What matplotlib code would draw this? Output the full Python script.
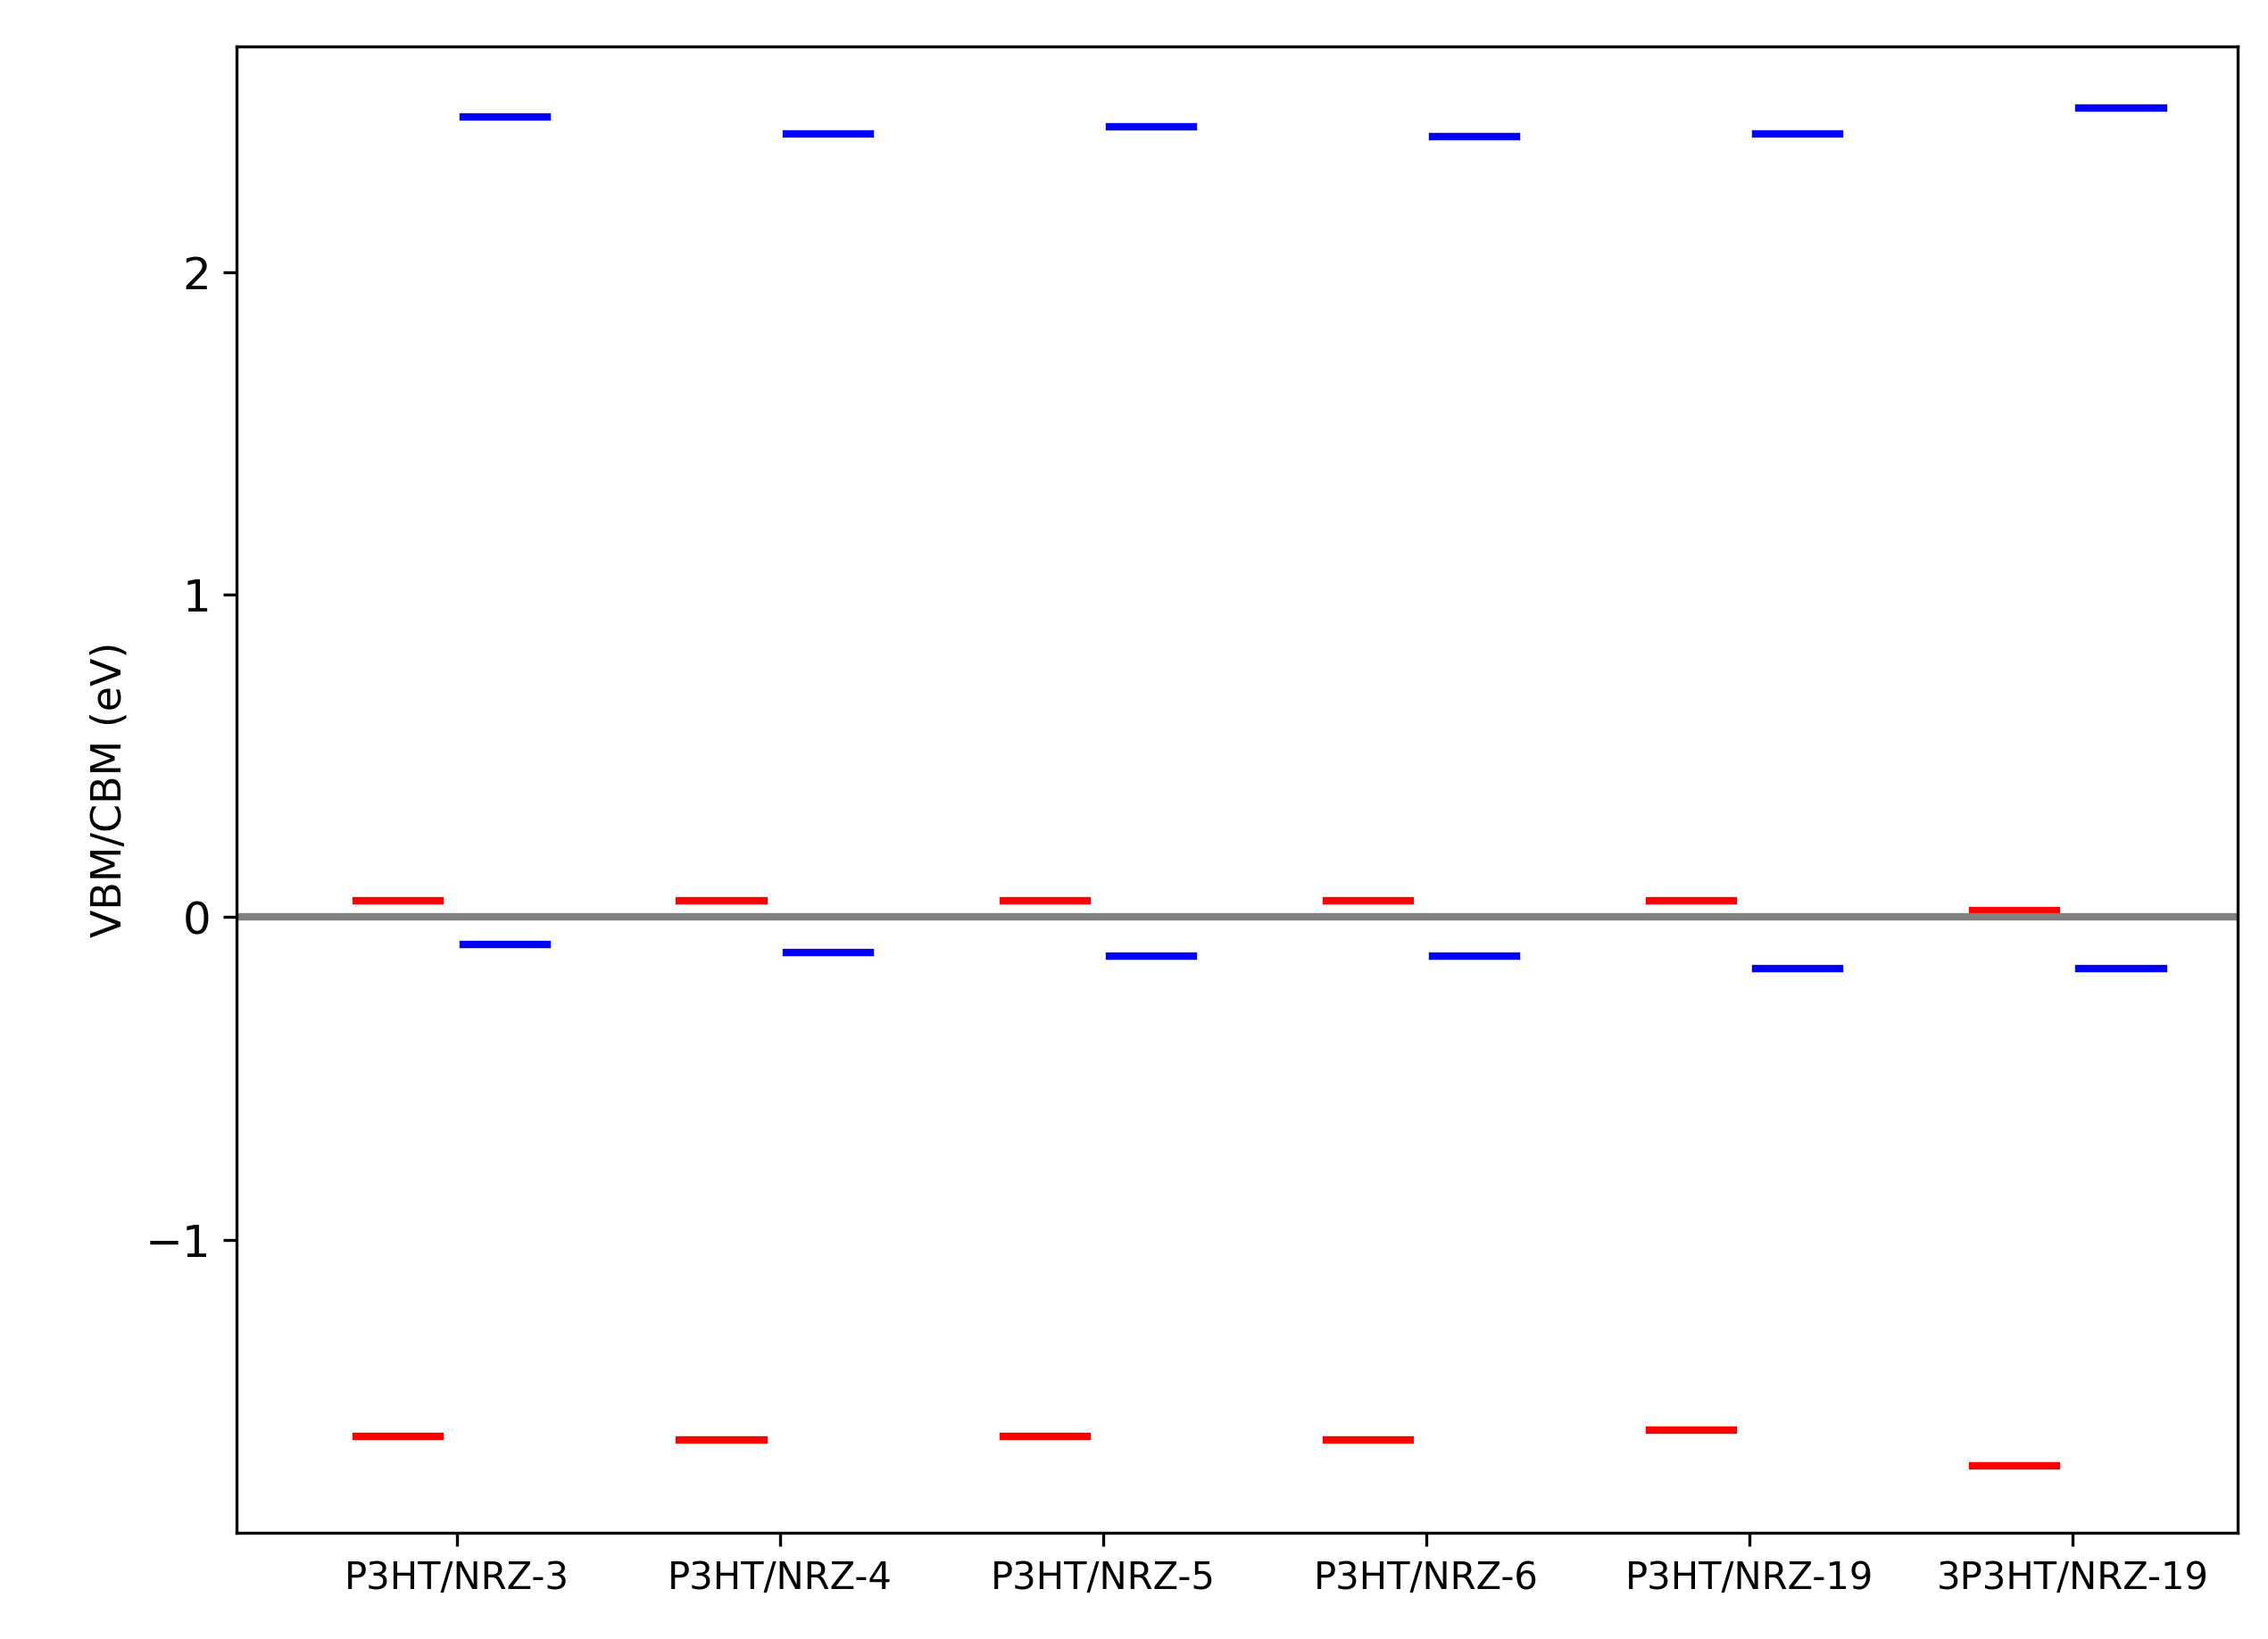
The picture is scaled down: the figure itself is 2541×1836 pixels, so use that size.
import matplotlib
matplotlib.use("Agg")
import matplotlib.pyplot as plt
import numpy as np

labels = ["P3HT/NRZ-3", "P3HT/NRZ-4", "P3HT/NRZ-5", "P3HT/NRZ-6", "P3HT/NRZ-19", "3P3HT/NRZ-19"]
red_vbm = [0.05, 0.05, 0.05, 0.05, 0.05, 0.02]
red_cbm = [-1.61, -1.62, -1.61, -1.62, -1.59, -1.70]
blue_cbm = [2.48, 2.43, 2.45, 2.42, 2.43, 2.51]
blue_vbm = [-0.085, -0.11, -0.12, -0.12, -0.16, -0.16]

fig = plt.figure(figsize=(2541/300, 1836/300), dpi=300)
ax = fig.add_axes([163/1561, 1-1057/1130, (1540-163)/1561, (1057-32)/1130])
x = np.arange(len(labels))
w = 0.13
for i in x:
    for v in (red_vbm[i], red_cbm[i]):
        ax.plot([i-0.18-w, i-0.18+w], [v, v], color="red", lw=2)
    for v in (blue_cbm[i], blue_vbm[i]):
        ax.plot([i+0.15-w, i+0.15+w], [v, v], color="blue", lw=2)
ax.axhline(0, color="gray", lw=2)
ax.set_xlim(-0.68, 5.51)
ax.set_ylim(-1.91, 2.70)
ax.set_xticks(x)
ax.set_xticklabels(labels, fontsize=10)
ax.set_yticks([-1, 0, 1, 2])
ax.tick_params(axis="y", labelsize=12)
ax.set_ylabel("VBM/CBM (eV)", fontsize=11)
fig.savefig("out.png", dpi=300)
